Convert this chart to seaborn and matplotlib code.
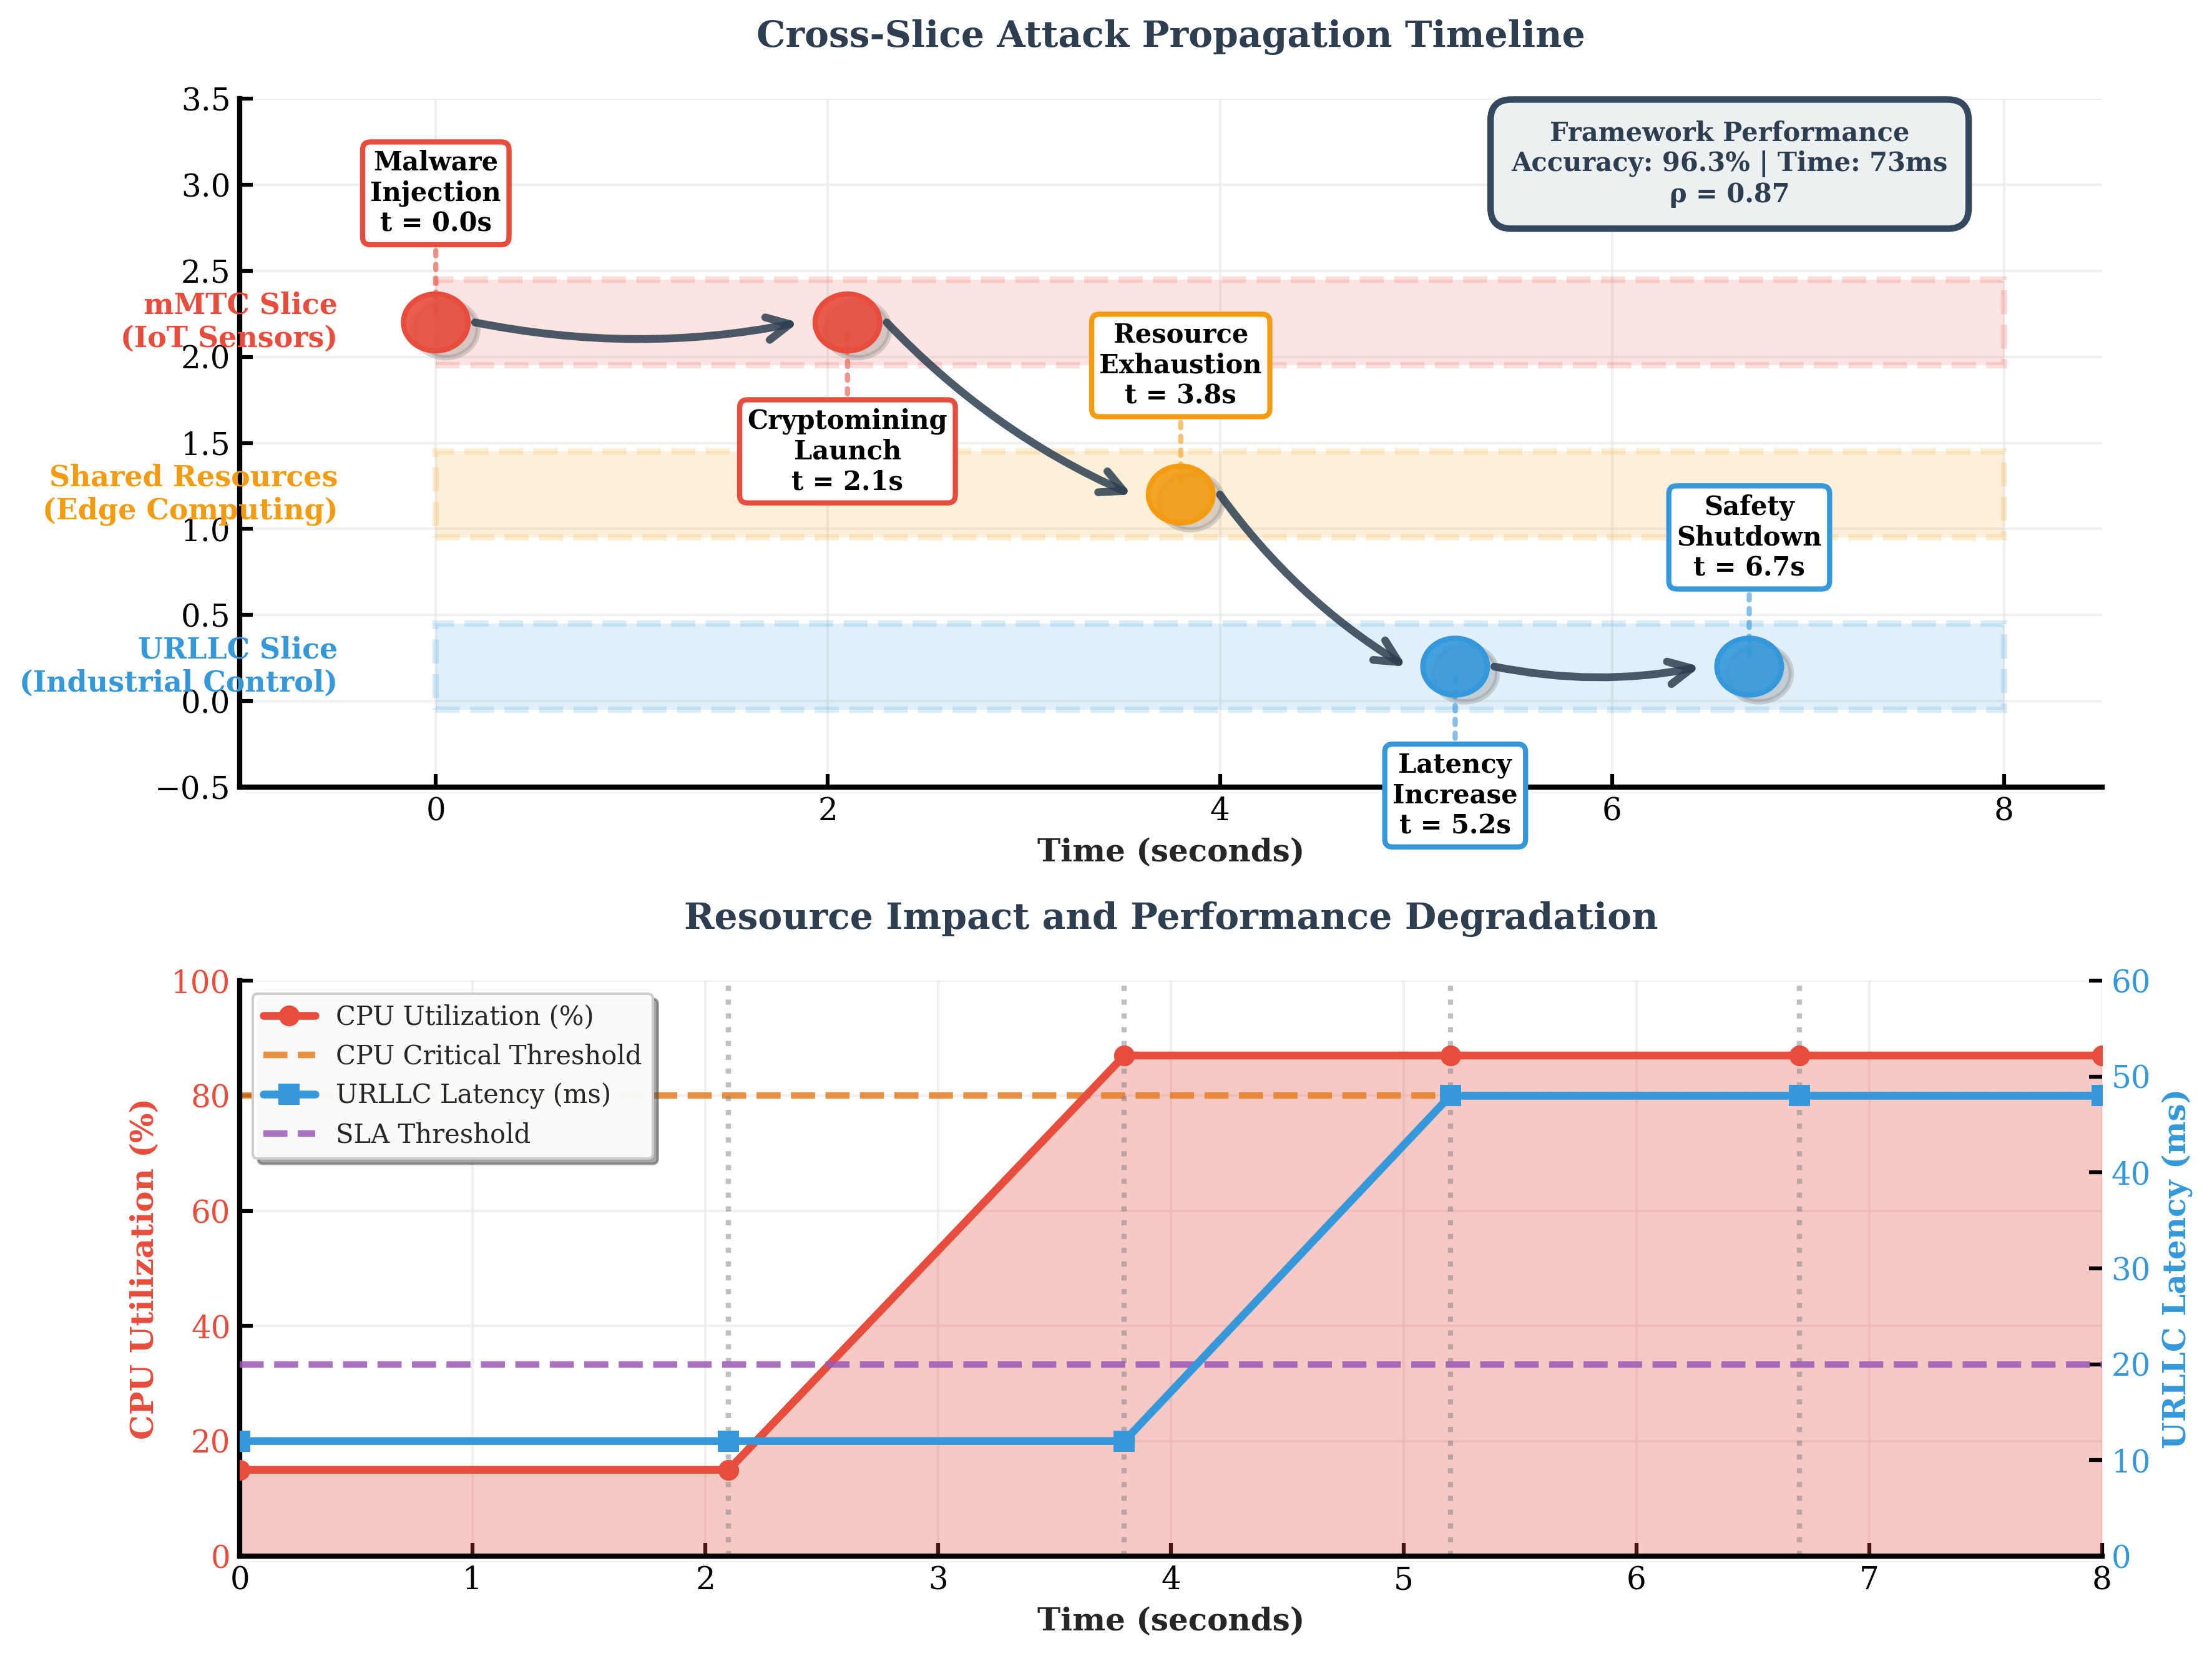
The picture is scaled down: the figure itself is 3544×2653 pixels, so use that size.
import matplotlib
matplotlib.use("Agg")
import matplotlib.pyplot as plt
from matplotlib.patches import Rectangle, Circle, FancyArrowPatch
from matplotlib.colors import to_rgba
import seaborn as sns

# --- attack timeline data ---
event_names = ["Malware\nInjection", "Cryptomining\nLaunch", "Resource\nExhaustion",
               "Latency\nIncrease", "Safety\nShutdown"]
event_times = [0.0, 2.1, 3.8, 5.2, 6.7]
event_levels = [2.2, 2.2, 1.2, 0.2, 0.2]
event_colors = ["#e74c3c", "#e74c3c", "#f39c12", "#3498db", "#3498db"]
label_offsets = [0.75, -0.75, 0.75, -0.75, 0.75]

slice_names = ["mMTC Slice\n(IoT Sensors)", "Shared Resources\n(Edge Computing)",
               "URLLC Slice\n(Industrial Control)"]
slice_levels = [2.2, 1.2, 0.2]
slice_colors = ["#e74c3c", "#f39c12", "#3498db"]
band_start, band_end = 0.0, 8.0

perf_text = "Framework Performance\nAccuracy: 96.3% | Time: 73ms\nρ = 0.87"

# --- resource impact data ---
impact_times = [0.0, 2.1, 3.8, 5.2, 6.7, 8.0]
cpu_util = [15, 15, 87, 87, 87, 87]
urllc_latency = [12, 12, 12, 48, 48, 48]
cpu_threshold = 80
sla_threshold = 20

DARK = "#2c3e50"
RED = "#e74c3c"
BLUE = "#3498db"

sns.set_theme(style="whitegrid")
plt.rcParams.update({
    "font.family": "serif",
    "font.serif": ["DejaVu Serif"],
    "axes.edgecolor": "black",
    "axes.linewidth": 2,
    "grid.color": "#e6e6e6",
    "grid.linewidth": 1,
    "xtick.direction": "in",
    "ytick.direction": "in",
    "xtick.major.size": 5,
    "ytick.major.size": 5,
    "xtick.major.width": 1.5,
    "ytick.major.width": 1.5,
    "xtick.bottom": True,
    "ytick.left": True,
    "xtick.labelsize": 12,
    "ytick.labelsize": 12,
    "xtick.color": "black",
    "ytick.color": "black",
})

fig = plt.figure(figsize=(3544 / 300, 2653 / 300))
ax = fig.add_axes([0.1084, 0.5247, 0.8419, 0.4157])
ax1 = fig.add_axes([0.1084, 0.0603, 0.8419, 0.3475])

# ---------------- top: propagation timeline ----------------
ax.set_xlim(-1, 8.5)
ax.set_ylim(-0.5, 3.5)
for name, lvl, col in zip(slice_names, slice_levels, slice_colors):
    ax.add_patch(Rectangle((band_start, lvl - 0.25), band_end - band_start, 0.5,
                           facecolor=to_rgba(col, 0.15), edgecolor=to_rgba(col, 0.18),
                           linestyle="--", linewidth=2.5, zorder=1))
    ax.text(-0.5, lvl, name, ha="right", va="center", fontsize=11,
            fontweight="bold", color=col, zorder=5)

for t, lvl, col in zip(event_times, event_levels, event_colors):
    ax.add_patch(Circle((t + 0.05, lvl - 0.04), 0.165, facecolor="gray",
                        edgecolor="gray", alpha=0.3, linewidth=2, zorder=3))
    ax.add_patch(Circle((t, lvl), 0.165, facecolor=to_rgba(col, 0.9),
                        edgecolor=col, linewidth=2, zorder=4))

for i in range(len(event_times) - 1):
    arr = FancyArrowPatch((event_times[i] + 0.2, event_levels[i]),
                          (event_times[i + 1] - 0.25, event_levels[i + 1]),
                          connectionstyle="arc3,rad=0.1", arrowstyle="->",
                          mutation_scale=22, linewidth=3, color=DARK, alpha=0.85,
                          shrinkA=0, shrinkB=0, zorder=3)
    ax.add_patch(arr)

for name, t, lvl, col, off in zip(event_names, event_times, event_levels,
                                  event_colors, label_offsets):
    ax.annotate(f"{name}\nt = {t:.1f}s", xy=(t, lvl), xytext=(t, lvl + off),
                ha="center", va="center", fontsize=10, fontweight="bold",
                color="black", zorder=6,
                bbox=dict(boxstyle="round,pad=0.3", facecolor="white",
                          edgecolor=col, linewidth=2),
                arrowprops=dict(arrowstyle="-", linestyle=":", color=col,
                                alpha=0.6, linewidth=2))

ax.text(0.8, 0.905, perf_text, transform=ax.transAxes, ha="center", va="center",
        fontsize=10, fontweight="bold", color=DARK, zorder=6,
        bbox=dict(boxstyle="round,pad=0.8", facecolor="#ecf0f1",
                  edgecolor="#34495e", linewidth=2.5))

ax.set_title("Cross-Slice Attack Propagation Timeline", fontsize=14,
             fontweight="bold", color=DARK, pad=20)
ax.set_xlabel("Time (seconds)", fontsize=12, fontweight="bold")
ax.set_ylabel("")
ax.grid(True, alpha=0.6)
sns.despine(ax=ax)

# ---------------- bottom: resource impact ----------------
ax2 = ax1.twinx()

ax1.fill_between(impact_times, cpu_util, color=RED, alpha=0.3, linewidth=0, zorder=1)
sns.lineplot(x=impact_times, y=cpu_util, ax=ax1, color=RED, linewidth=3,
             marker="o", markersize=8, markeredgewidth=0,
             label="CPU Utilization (%)", zorder=3)
ax1.axhline(cpu_threshold, color="#e67e22", linestyle="--", linewidth=2.5,
            alpha=0.85, label="CPU Critical Threshold", zorder=2)
for t in event_times[1:]:
    ax1.axvline(t, color="gray", linestyle=":", linewidth=2, alpha=0.5, zorder=2)

sns.lineplot(x=impact_times, y=urllc_latency, ax=ax2, color=BLUE, linewidth=3,
             marker="s", markersize=8, markeredgewidth=0,
             label="URLLC Latency (ms)", zorder=3)
ax2.axhline(sla_threshold, color="#9b59b6", linestyle="--", linewidth=2.5,
            alpha=0.85, label="SLA Threshold", zorder=2)

ax1.set_xlim(0, 8)
ax1.set_ylim(0, 100)
ax2.set_ylim(0, 60)
ax1.set_xlabel("Time (seconds)", fontsize=12, fontweight="bold")
ax1.set_ylabel("CPU Utilization (%)", fontsize=12, fontweight="bold", color=RED)
ax2.set_ylabel("URLLC Latency (ms)", fontsize=12, fontweight="bold", color=BLUE)
ax1.tick_params(axis="y", labelcolor=RED)
ax2.tick_params(axis="y", labelcolor=BLUE, right=True, direction="in")
ax2.grid(False)
ax1.grid(True, alpha=0.6)
for side in ["top", "right"]:
    ax1.spines[side].set_visible(False)
for side in ["top", "right", "left", "bottom"]:
    ax2.spines[side].set_visible(False)

h1, l1 = ax1.get_legend_handles_labels()
h2, l2 = ax2.get_legend_handles_labels()
if ax1.get_legend():
    ax1.get_legend().remove()
if ax2.get_legend():
    ax2.get_legend().remove()
order_h = [h1[0], h1[1], h2[0], h2[1]]
order_l = [l1[0], l1[1], l2[0], l2[1]]
ax2.legend(order_h, order_l, loc="upper left", fontsize=10, frameon=True,
           fancybox=True, shadow=True, framealpha=0.95)

ax1.set_title("Resource Impact and Performance Degradation", fontsize=14,
              fontweight="bold", color=DARK, pad=20)

fig.savefig("out.png", dpi=300)
